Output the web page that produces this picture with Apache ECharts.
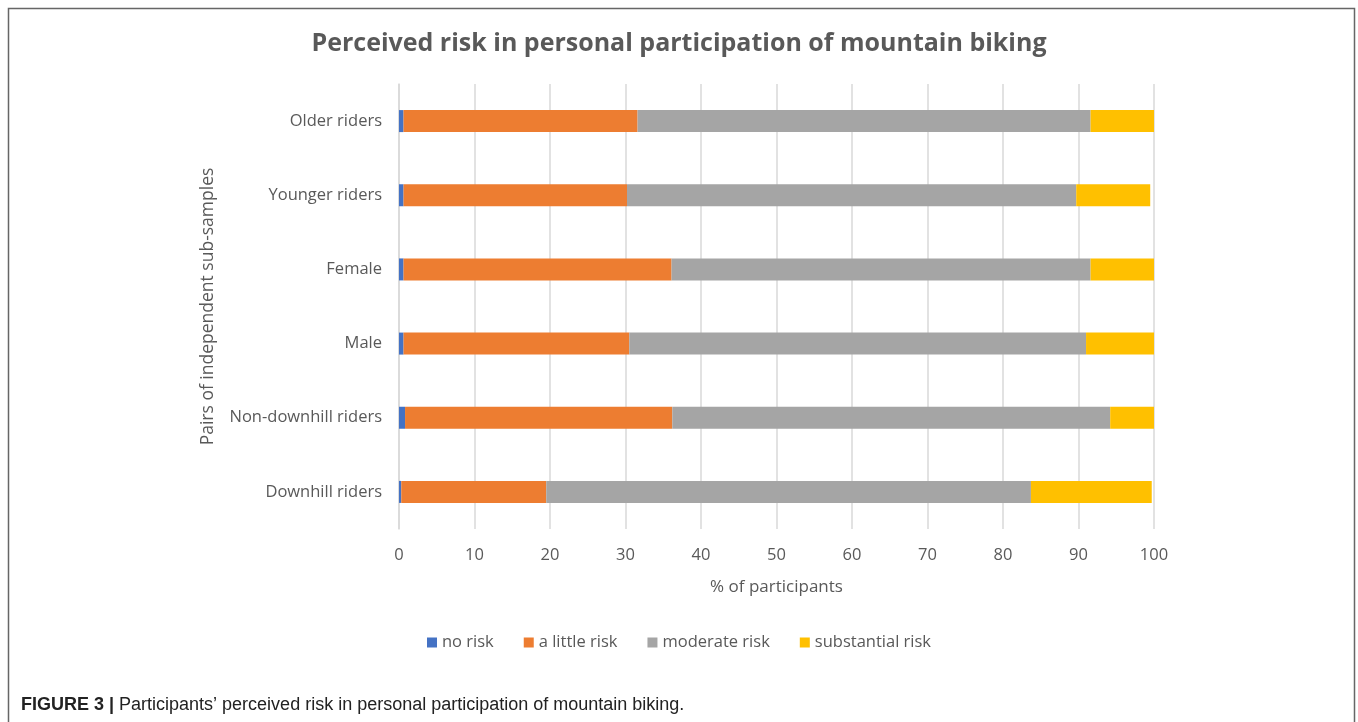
<!DOCTYPE html>
<html><head><meta charset="utf-8">
<script src="https://cdn.jsdelivr.net/npm/echarts@6/dist/echarts.min.js"></script>
<style>html,body{margin:0;padding:0;background:#fff}#c{width:1358px;height:722px}</style>
</head><body><div id="c"></div>
<script>
const categories = ["Older riders","Younger riders","Female","Male","Non-downhill riders","Downhill riders"];
const seriesNames = ["no risk","a little risk","moderate risk","substantial risk"];
const noRisk = [0.6,0.6,0.6,0.6,0.8,0.3];
const littleRisk = [31.0,29.6,35.5,29.9,35.4,19.2];
const moderateRisk = [60.0,59.5,55.5,60.5,58.0,64.2];
const substantialRisk = [8.4,9.8,8.4,9.0,5.8,16.0];
const xTicks = [0,10,20,30,40,50,60,70,80,90,100];
const colors = ["#4472C4","#ED7D31","#A5A5A5","#FFC000"];
const font = "'Open Sans', 'Noto Sans', sans-serif";

const chart = echarts.init(document.getElementById('c'));
const values = [noRisk, littleRisk, moderateRisk, substantialRisk];
chart.setOption({
  animation:false,
  title:[{
    text:"Perceived risk in personal participation of mountain biking",
    left:'center', top:26,
    textStyle:{fontFamily:font,fontSize:25,fontWeight:'bold',color:'#595959'}
  },{
    text:"{b|FIGURE 3 |} {n|Participants\u2019 perceived risk in personal participation of mountain biking.}",
    left:16, top:691,
    textStyle:{fontWeight:'normal',rich:{
      b:{fontFamily:"'Liberation Sans', Arial, sans-serif",fontSize:18,fontWeight:'bold',color:'#222'},
      n:{fontFamily:"'Liberation Sans', Arial, sans-serif",fontSize:18,fontWeight:'normal',color:'#222'}
    }}
  }],
  graphic:[{type:'rect',shape:{x:8.5,y:8.5,width:1346,height:730},style:{fill:'none',stroke:'#666',lineWidth:1.5},silent:true}],
  legend:{
    data:seriesNames, bottom:66, left:'center',
    itemWidth:10,itemHeight:10,itemGap:30,icon:'rect',
    textStyle:{fontFamily:font,fontSize:16.5,color:'#595959'}
  },
  grid:{left:399,right:204,top:84,bottom:193},
  xAxis:{
    type:'value',min:0,max:100,interval:10,
    name:'% of participants',nameLocation:'middle',nameGap:50,
    nameTextStyle:{fontFamily:font,fontSize:17,color:'#595959'},
    axisLine:{show:false},axisTick:{show:false},
    axisLabel:{fontFamily:font,fontSize:16.5,color:'#595959',margin:18,
      formatter:v=>xTicks.includes(v)?String(v):''},
    splitLine:{lineStyle:{color:'#d9d9d9',width:1.5}}
  },
  yAxis:{
    type:'category',data:categories,inverse:true,
    name:'Pairs of independent sub-samples',nameLocation:'middle',nameGap:182,nameRotate:90,
    nameTextStyle:{fontFamily:font,fontSize:17.5,color:'#595959'},
    axisLine:{show:true,lineStyle:{color:'#d9d9d9',width:1.5}},
    axisTick:{show:false},
    axisLabel:{fontFamily:font,fontSize:16.5,color:'#595959',margin:17}
  },
  series:seriesNames.map((n,i)=>({
    name:n,type:'bar',stack:'t',data:values[i],barWidth:22,
    itemStyle:{color:colors[i]}
  }))
});
</script></body></html>
